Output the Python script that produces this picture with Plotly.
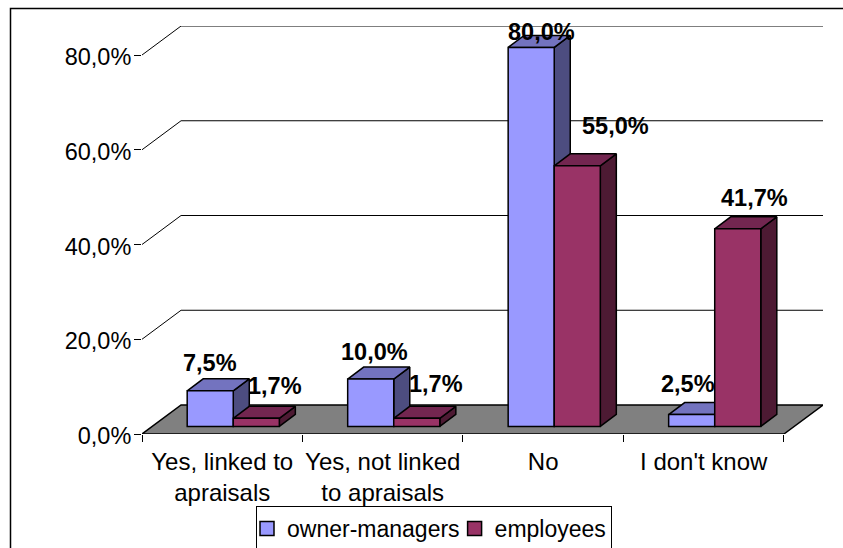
import plotly.graph_objects as go

# ---- data ----
categories = ["Yes, linked to<br>apraisals", "Yes, not linked<br>to apraisals", "No", "I don't know"]
series_names = ["owner-managers", "employees"]
owner_managers = [7.5, 10.0, 80.0, 2.5]
employees = [1.7, 1.7, 55.0, 41.7]
y_ticks = [0, 20, 40, 60, 80]

# ---- geometry, expressed in axis units ----
W, H = 843, 548
L, T, B, R = 142, 26, 114, 20
CAT_PX = 160.25
PCT_PX = 4.7375
wall_dx = 39 / CAT_PX
wall_dy = 29 / PCT_PX
bar_dx = 16 / CAT_PX
bar_dy = 12 / PCT_PX
bar_base = 7.6 / PCT_PX
bar_w = 46 / CAT_PX
bar_off = [-35 / CAT_PX, 11 / CAT_PX]
x0, x1 = -0.5, 3.5

styles = [
    dict(front="#9999FF", top="#7373BF", side="#4D4D80"),
    dict(front="#993366", top="#732650", side="#4D1A33"),
]
# label nudges in px from the bar's front-top centre
nudge_by_series = [
    [(0, 28), (4, 27), (10, 15), (-4, 31)],
    [(19, 32), (19, 34), (38, 40), (17, 31)],
]

fig = go.Figure()


def line_trace(xs, ys, color="#000000", width=1.0, fill=None, zorder=0):
    fig.add_trace(go.Scatter(
        x=xs, y=ys, mode="lines", line=dict(color=color, width=width),
        fill="toself" if fill else None, fillcolor=fill,
        hoverinfo="skip", showlegend=False, zorder=zorder,
        connectgaps=False,
    ))


# walls: gridlines
for v in y_ticks[1:]:
    line_trace([x0, x0 + wall_dx, x1 + wall_dx],
               [v, v + wall_dy, v + wall_dy], width=1.0, zorder=0)

# floor
line_trace([x0, x0 + wall_dx, x1 + wall_dx, x1, x0],
           [0, wall_dy, wall_dy, 0, 0], width=1.5, fill="#808080", zorder=1)

# bars
for s, values in enumerate([owner_managers, employees]):
    st = styles[s]
    left = [i + bar_off[s] for i in range(4)]
    tx, ty, sx, sy = [], [], [], []
    for xl, v in zip(left, values):
        xr = xl + bar_w
        top = bar_base + v
        tx += [xl, xl + bar_dx, xr + bar_dx, xr, xl, None]
        ty += [top, top + bar_dy, top + bar_dy, top, top, None]
        sx += [xr, xr + bar_dx, xr + bar_dx, xr, xr, None]
        sy += [bar_base, bar_base + bar_dy, top + bar_dy, top, bar_base, None]
    z = 2 + 3 * s
    line_trace(sx, sy, width=1.5, fill=st["side"], zorder=z)
    line_trace(tx, ty, width=1.5, fill=st["top"], zorder=z + 1)
    fig.add_trace(go.Bar(
        x=list(range(4)), y=values, base=bar_base, width=bar_w, offset=bar_off[s],
        marker=dict(color=st["front"], line=dict(color="#000000", width=1.5)),
        showlegend=False, name=series_names[s], zorder=z + 2,
    ))
    # legend entry
    fig.add_trace(go.Scatter(
        x=[None], y=[None], mode="markers", name=series_names[s],
        marker=dict(symbol="square", size=14, color=st["front"],
                    line=dict(color="#000000", width=1.5)),
    ))
    for i, v in enumerate(values):
        dx, dy = nudge_by_series[s][i]
        fig.add_annotation(
            x=left[i] + bar_w / 2, y=bar_base + v, xref="x", yref="y",
            text=f"<b>{v:.1f}%</b>".replace(".", ","), showarrow=False,
            xshift=dx, yshift=dy,
            font=dict(family="Liberation Sans", size=23.5, color="#000000"),
        )

font = dict(family="Liberation Sans", size=23, color="#000000")
fig.update_layout(
    width=W, height=H, autosize=False,
    margin=dict(l=L, r=R, t=T, b=B, pad=0, autoexpand=False),
    paper_bgcolor="#FFFFFF", plot_bgcolor="#FFFFFF",
    barmode="overlay", font=font, hovermode=False,
    xaxis=dict(
        range=[x0, x1 + wall_dx], showgrid=False, zeroline=False,
        showline=False, tickmode="array", tickvals=list(range(4)), ticktext=categories,
        ticks="", ticklabelstandoff=11, tickangle=0,
        tickfont=dict(family="Liberation Sans", size=24, color="#000000"),
        minor=dict(tickmode="array", tickvals=[-0.5, 0.5, 1.5, 2.5, 3.5],
                   ticks="outside", ticklen=7, tickwidth=1, tickcolor="#000000"),
    ),
    yaxis=dict(
        range=[0, 80 + wall_dy], showgrid=False, zeroline=False,
        showline=True, linecolor="#000000", linewidth=1,
        tickmode="array", tickvals=y_ticks,
        ticktext=[f"{v:.1f}%".replace(".", ",") for v in y_ticks],
        ticks="outside", ticklen=7, tickwidth=1, tickcolor="#000000",
        ticklabelstandoff=-2, ticklabelshift=2,
        tickfont=dict(family="Liberation Sans", size=23.5, color="#000000"),
    ),
    legend=dict(
        orientation="h", x=(256 - L) / (W - L - R), y=(H - B - 506) / (H - T - B),
        xanchor="left", yanchor="top", bgcolor="#FFFFFF", bordercolor="#000000",
        borderwidth=1, font=font, indentation=-10, traceorder="normal",
    ),
    shapes=[dict(
        type="rect", xref="paper", yref="paper", layer="below",
        x0=(10.5 - L) / (W - L - R), x1=(W + 20 - L) / (W - L - R),
        y0=(H - B - (H + 20)) / (H - T - B), y1=(H - B - 8.5) / (H - T - B),
        line=dict(color="#000000", width=1.5), fillcolor="rgba(0,0,0,0)",
    )],
)

fig.write_html("out.html", config=dict(displayModeBar=False),
               post_script="document.body.style.margin='0';")
